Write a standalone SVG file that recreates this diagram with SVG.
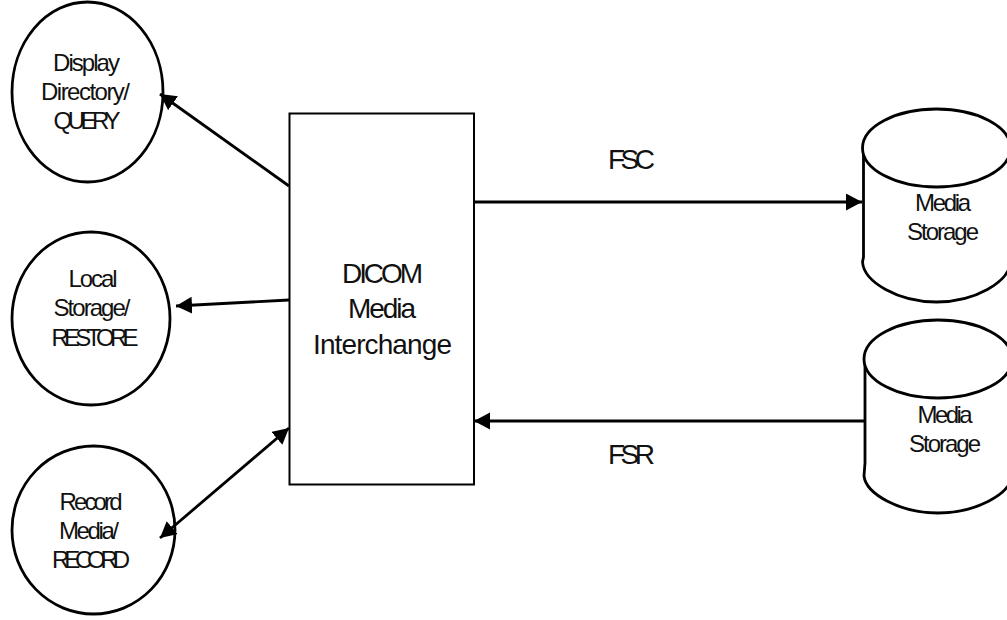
<svg xmlns="http://www.w3.org/2000/svg" width="1007" height="620" viewBox="0 0 1007 620">
<style>
text{font-family:"Liberation Sans",Arial,sans-serif;fill:#111;text-anchor:middle}
.s{font-size:24px}
.m{font-size:28px}
.n{fill:#fff;stroke:#000;stroke-width:2.8}
.b{fill:#fff;stroke:#000;stroke-width:2}
.c{stroke:#000;stroke-width:2.8;fill:none}
</style>
<defs>
<marker id="a" markerUnits="userSpaceOnUse" markerWidth="18" markerHeight="18" refX="16" refY="8.500" orient="auto-start-reverse"><path d="M0 0L16 8.500L0 17Z" fill="#000"/></marker>
</defs>
<rect width="1007" height="620" fill="#fff"/>
<g id="display"><ellipse class="n" cx="87.500" cy="92" rx="75.500" ry="90"/><text class="s" x="86.500" y="70.500" textLength="67" lengthAdjust="spacing">Display</text><text class="s" x="85.500" y="100" textLength="89" lengthAdjust="spacing">Directory/</text><text class="s" x="87" y="129" textLength="67" lengthAdjust="spacing">QUERY</text></g>
<g id="local"><ellipse class="n" cx="91" cy="318.500" rx="79" ry="86.500"/><text class="s" x="93" y="287" textLength="49" lengthAdjust="spacing">Local</text><text class="s" x="92" y="316" textLength="77" lengthAdjust="spacing">Storage/</text><text class="s" x="95" y="346" textLength="87" lengthAdjust="spacing">RESTORE</text></g>
<g id="record"><ellipse class="n" cx="93.500" cy="530" rx="81.500" ry="84"/><text class="s" x="91" y="510" textLength="63" lengthAdjust="spacing">Record</text><text class="s" x="89" y="539" textLength="60" lengthAdjust="spacing">Media/</text><text class="s" x="91" y="568" textLength="78" lengthAdjust="spacing">RECORD</text></g>
<g id="dicom"><rect class="b" x="289.500" y="113.500" width="184.500" height="371"/><text class="m" x="382.500" y="283" textLength="81" lengthAdjust="spacing">DICOM</text><text class="m" x="382" y="318" textLength="68" lengthAdjust="spacing">Media</text><text class="m" x="382.500" y="354" textLength="139" lengthAdjust="spacing">Interchange</text></g>
<g id="fsc"><text class="m" x="631.500" y="169" textLength="47" lengthAdjust="spacing">FSC</text></g>
<g id="fsr"><text class="m" x="631.500" y="464" textLength="47" lengthAdjust="spacing">FSR</text></g>
<g id="storage1"><path class="n" d="M863.500 148V257L862.500 262C864 282 898 302 936.500 302C975 302 1009 282 1010.500 262V148"/><ellipse class="n" cx="936.500" cy="148" rx="74" ry="39"/><text class="s" x="943" y="211" textLength="56" lengthAdjust="spacing">Media</text><text class="s" x="943" y="240" textLength="72" lengthAdjust="spacing">Storage</text></g>
<g id="storage2"><path class="n" d="M865 359V463L864 476C866 494 900 513 938 513C976 513 1010 494 1012 476V359"/><ellipse class="n" cx="938" cy="359" rx="74" ry="39"/><text class="s" x="945" y="423" textLength="55" lengthAdjust="spacing">Media</text><text class="s" x="945" y="452" textLength="72" lengthAdjust="spacing">Storage</text></g>
<g id="connectors">
<path class="c" d="M289 186L160 94" marker-end="url(#a)"/>
<path class="c" d="M289 300L176 306" marker-end="url(#a)"/>
<path class="c" d="M289 428L160 538" marker-start="url(#a)" marker-end="url(#a)"/>
<path class="c" d="M474 202L862 202" marker-end="url(#a)"/>
<path class="c" d="M864 421L474 421" marker-end="url(#a)"/>
</g>
</svg>
